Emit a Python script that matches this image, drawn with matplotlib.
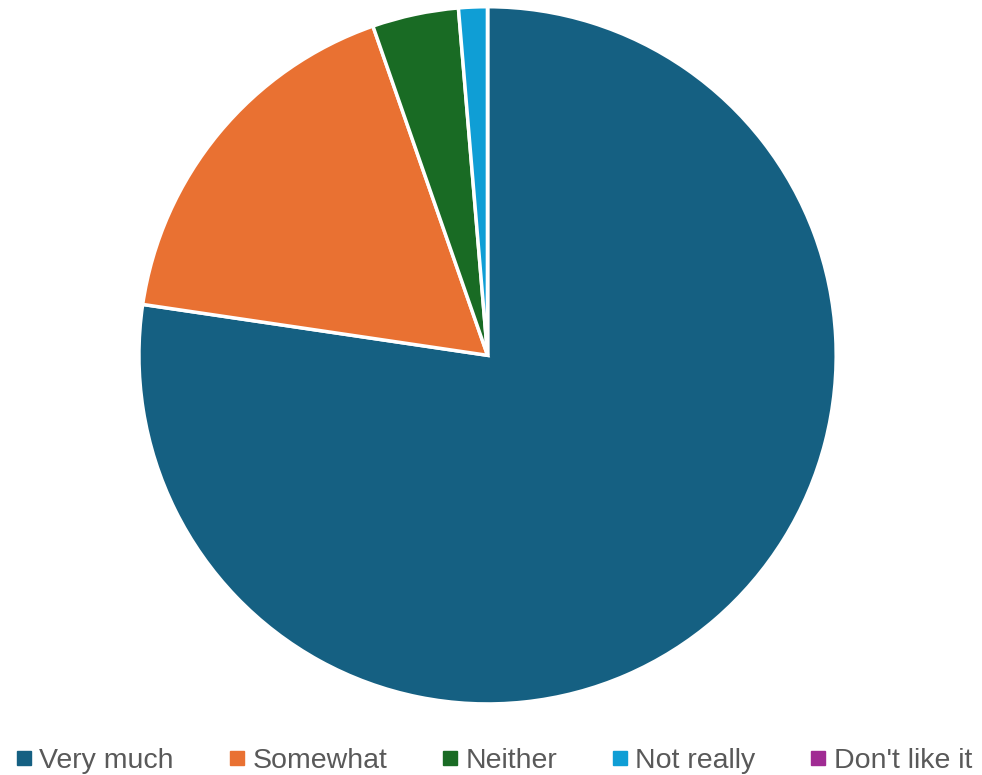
import matplotlib
matplotlib.use("Agg")
import matplotlib.pyplot as plt
from matplotlib.lines import Line2D

categories = ["Very much", "Somewhat", "Neither", "Not really", "Don't like it"]
values = [58, 13, 3, 1, 0]
colors = ["#156082", "#E97132", "#196B24", "#0F9ED5", "#A02B93"]

plt.rcParams['font.family'] = ['Liberation Sans', 'DejaVu Sans']

fig = plt.figure(figsize=(9.82, 7.75), dpi=100)
ax = fig.add_axes([0.1415, 0.0915, 0.7100, 0.9000])
ax.pie(values, colors=colors, startangle=90, counterclock=False,
       wedgeprops=dict(edgecolor="white", linewidth=2.5))
ax.set_xlim(-1.0, 1.0)
ax.set_ylim(-1.0, 1.0)
ax.set_aspect("equal")

handles = [Line2D([0], [0], marker="s", linestyle="none", markersize=10,
                  markerfacecolor=c, markeredgecolor=c) for c in colors]
fig.legend(handles, categories, loc="center", bbox_to_anchor=(0.5, 0.018),
           ncol=5, frameon=False, fontsize=20.5, labelcolor="#595959",
           handletextpad=0.05, columnspacing=1.7, handlelength=1.0)

fig.savefig("out.png", dpi=100)
